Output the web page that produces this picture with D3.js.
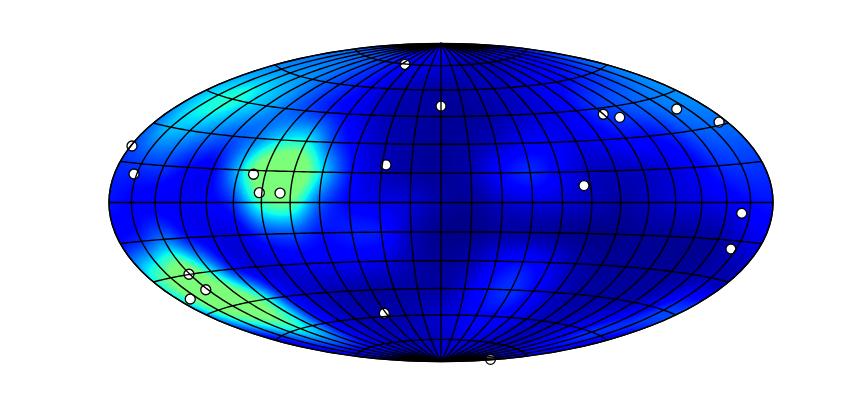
<!DOCTYPE html>
<html><head><meta charset="utf-8">
<script src="https://cdn.jsdelivr.net/npm/d3@7/dist/d3.min.js"></script>
<style>html,body{margin:0;padding:0;background:#fff;overflow:hidden}#c{position:absolute;left:0;top:0}svg{position:absolute;left:0;top:0}</style>
</head><body><canvas id="c" width="861" height="407"></canvas><svg id="s" width="861" height="407"></svg>
<script>
const lons = d3.range(-180,181,15);
const lats = d3.range(90,-91,-15);
const field = [
[.10,.10,.10,.10,.10,.10,.10,.10,.10,.10,.10,.10,.10,.10,.10,.10,.10,.10,.10,.10,.10,.10,.10,.10,.10],
[.22,.22,.22,.22,.21,.20,.17,.15,.13,.10,.09,.08,.07,.06,.05,.05,.05,.05,.07,.08,.10,.11,.12,.14,.18],
[.26,.27,.28,.28,.26,.22,.18,.15,.11,.07,.05,.04,.03,.03,.04,.05,.06,.08,.10,.12,.14,.16,.18,.22,.25],
[.31,.37,.40,.35,.30,.24,.20,.16,.12,.07,.04,.03,.02,.02,.03,.05,.07,.09,.13,.17,.20,.22,.24,.26,.28],
[.24,.32,.30,.25,.21,.25,.36,.38,.20,.10,.05,.03,.02,.03,.06,.10,.11,.09,.10,.13,.13,.16,.21,.23,.24],
[.17,.18,.18,.13,.12,.32,.60,.62,.34,.13,.06,.03,.02,.04,.12,.16,.11,.06,.05,.06,.08,.11,.16,.18,.18],
[.14,.12,.11,.10,.11,.18,.43,.47,.22,.12,.09,.07,.03,.02,.06,.08,.07,.05,.03,.05,.07,.08,.10,.13,.14],
[.13,.17,.24,.14,.09,.09,.18,.20,.14,.15,.14,.05,.01,.01,.03,.03,.02,.01,.01,.02,.02,.02,.03,.07,.10],
[.36,.50,.58,.38,.15,.08,.08,.10,.10,.10,.08,.04,.02,.04,.10,.13,.09,.04,.02,.02,.02,.02,.03,.05,.08],
[.28,.48,.58,.56,.40,.15,.07,.05,.04,.03,.03,.03,.03,.07,.14,.17,.12,.06,.03,.03,.03,.05,.10,.18,.22],
[.10,.20,.32,.38,.30,.15,.08,.05,.04,.04,.04,.05,.07,.09,.12,.12,.10,.07,.05,.05,.08,.12,.17,.15,.10],
[.10,.12,.12,.12,.12,.10,.08,.06,.05,.05,.05,.05,.06,.07,.08,.08,.07,.06,.05,.05,.06,.08,.09,.10,.10],
[.05,.05,.05,.05,.05,.05,.05,.05,.05,.05,.05,.05,.05,.05,.05,.05,.05,.05,.05,.05,.05,.05,.05,.05,.05]
];
const markerLon=[-54.7,0,-28.1,-96.3,-91.3,-80.4,-179.1,-166.8,-150.6,-151.5,-171,-46.4,176.2,104.9,113.2,157.7,174.3,71.5,159.8,161.6];
const markerLat=[74.8,50.8,19.1,13.2,4.6,4.5,20.9,10.9,-29.9,-36.9,-38.7,-58.1,-81.4,42,39.7,39.1,31.1,8.2,-4.2,-18.3];

const yK = 0.9578;
function hammerRaw(l,p){const c=Math.cos(p),d=Math.sqrt(1+c*Math.cos(l/2));return [2*Math.SQRT2*c*Math.sin(l/2)/d, yK*Math.SQRT2*Math.sin(p)/d];}
hammerRaw.invert=function(x,y){y=y/yK;const z=Math.sqrt(1-x*x/16-y*y/4);return [2*Math.atan2(z*x,2*(2*z*z-1)),Math.asin(z*y)];};
const projection=d3.geoProjection(hammerRaw).scale(332/(2*Math.SQRT2)).translate([441,202.5]).precision(.1);
const path=d3.geoPath(projection);
const jet=d3.scaleLinear().domain([0,.11,.125,.34,.35,.375,.64]).range(["#000080","#0000ff","#0000ff","#00d6ff","#00dcfe","#0dffe8","#f7fe00"]).clamp(true);
const lonS=d3.scaleLinear().domain([-180,180]).range([0,lons.length-1]);
const latS=d3.scaleLinear().domain([90,-90]).range([0,lats.length-1]);
function cr(a,b,c,d,t){return b+.5*t*(c-a+t*(2*a-5*b+4*c-d+t*(3*(b-c)+d-a)));}
function val(lon,lat){
 const u=lonS(lon),v=latS(lat),i=Math.min(Math.floor(u),lons.length-2),j=Math.min(Math.floor(v),lats.length-2),tu=u-i,tv=v-j;
 const col=k=>{const ii=i+k<0?i+k+24:(i+k>24?i+k-24:i+k);return ii;};
 const rows=[-1,0,1,2].map(m=>{const r=field[Math.max(0,Math.min(12,j+m))];return cr(r[col(-1)],r[col(0)],r[col(1)],r[col(2)],tu);});
 return cr(rows[0],rows[1],rows[2],rows[3],tv);
}
const ctx=document.getElementById('c').getContext('2d');
const img=ctx.createImageData(861,407);
for(let y=0;y<407;y++)for(let x=0;x<861;x++){
 const X=(x+.5-441)/332,Y=(y+.5-202.5)/159;
 if(X*X+Y*Y>1)continue;
 const ll=projection.invert([x+.5,y+.5]);
 if(!ll||isNaN(ll[0]))continue;
 const c=d3.rgb(jet(Math.min(.5,Math.max(0,val(ll[0],ll[1])))));
 const o=(y*861+x)*4;img.data[o]=c.r;img.data[o+1]=c.g;img.data[o+2]=c.b;img.data[o+3]=255;
}
ctx.putImageData(img,0,0);
const svg=d3.select('#s');
svg.append('g').selectAll('circle').data(markerLon.map((l,i)=>[l,markerLat[i]])).join('circle')
 .attr('cx',d=>projection(d)[0]).attr('cy',d=>projection(d)[1]).attr('r',5).attr('fill','#fff').attr('stroke','#000').attr('stroke-width',1.3);
const grat=d3.geoGraticule().extent([[-180,-90],[180.001,90.001]]).step([15,15]);
svg.append('path').datum(grat()).attr('d',path).attr('fill','none').attr('stroke','#000').attr('stroke-width',1.4);
svg.append('path').datum({type:'Sphere'}).attr('d',path).attr('fill','none').attr('stroke','#000').attr('stroke-width',1.4);
</script></body></html>
